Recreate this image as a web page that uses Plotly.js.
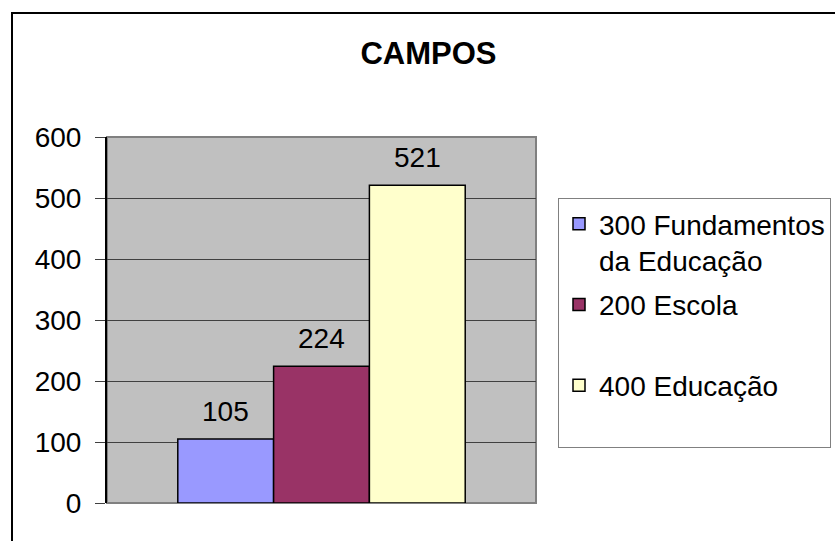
<!DOCTYPE html>
<html>
<head>
<meta charset="utf-8">
<script src="https://cdn.plot.ly/plotly-3.0.1.min.js"></script>
<style>
html,body{margin:0;padding:0;background:#fff;}
#chart{width:835px;height:541px;}
</style>
</head>
<body>
<div id="chart"></div>
<script>
// Data
const seriesNames = ["300 Fundamentos<br>da Educação", "200 Escola<br> ", "400 Educação<br> "];
const seriesValues = [105, 224, 521];
const seriesColors = ["#9999FF", "#993366", "#FFFFCC"];
const category = ["CAMPOS"];
const yTicks = [0, 100, 200, 300, 400, 500, 600];

const FONT = "'Liberation Sans', Arial, sans-serif";
const bargap = 0.33;

const traces = seriesNames.map((name, i) => ({
  type: "bar",
  x: category,
  y: [seriesValues[i]],
  name: name,
  legendgroup: "g" + i,
  marker: { color: seriesColors[i], line: { color: "#000000", width: 1.5 } },
  hoverinfo: "skip"
}));

const n = seriesValues.length;
const barW = (1 - bargap) / n;
const annotations = seriesValues.map((v, i) => ({
  xref: "x", yref: "y",
  x: (i - (n - 1) / 2) * barW,
  y: v,
  text: String(v),
  showarrow: false,
  xanchor: "center",
  yanchor: "bottom",
  yshift: 10,
  font: { family: FONT, size: 28, color: "#000000" }
}));

const L = 107, R = 299, T = 137, B = 38;
const pw = 835 - L - R, ph = 541 - T - B;

const shapes = [
  // outer chart-area border
  { type: "rect", xref: "paper", yref: "paper",
    x0: (12 - L) / pw, x1: (900 - L) / pw,
    y0: (541 - B - 600) / ph, y1: (541 - B - 13) / ph,
    line: { color: "#000000", width: 2 }, fillcolor: "rgba(0,0,0,0)", layer: "above" },
  // plot area border
  { type: "rect", xref: "paper", yref: "paper", x0: 0, x1: 1, y0: 0, y1: 1,
    line: { color: "#808080", width: 2 }, fillcolor: "rgba(0,0,0,0)", layer: "below" }
];

const layout = {
  width: 835, height: 541,
  margin: { l: L, r: R, t: T, b: B, pad: 0, autoexpand: false },
  paper_bgcolor: "#FFFFFF",
  plot_bgcolor: "#C0C0C0",
  font: { family: FONT, size: 28, color: "#000000" },
  title: {
    text: "<b>CAMPOS</b>",
    font: { family: FONT, size: 31, color: "#000000" },
    x: 428.5 / 835, xanchor: "center", xref: "container",
    y: 1 - 53 / 541, yanchor: "middle", yref: "container"
  },
  barmode: "group",
  bargap: bargap,
  bargroupgap: 0,
  showlegend: true,
  legend: {
    x: (558 - L) / pw, xanchor: "left",
    y: (541 - B - 198) / ph, yanchor: "top",
    bgcolor: "#FFFFFF",
    bordercolor: "#808080",
    borderwidth: 1,
    valign: "top",
    tracegroupgap: 5,
    font: { family: FONT, size: 28, color: "#000000" }
  },
  xaxis: {
    type: "category",
    showticklabels: false,
    showgrid: false,
    zeroline: false,
    showline: false,
    ticks: "",
    fixedrange: true
  },
  yaxis: {
    range: [0, 600],
    tickvals: yTicks,
    ticktext: yTicks.map(String),
    showgrid: true,
    gridcolor: "#404040",
    gridwidth: 1,
    zeroline: false,
    showline: true,
    linecolor: "#000000",
    linewidth: 2,
    ticks: "outside",
    ticklen: 10,
    tickcolor: "#404040",
    tickwidth: 1,
    ticklabelstandoff: 8,
    tickfont: { family: FONT, size: 28, color: "#000000" },
    fixedrange: true
  },
  shapes: shapes,
  annotations: annotations
};

Plotly.newPlot("chart", traces, layout, { displayModeBar: false, staticPlot: true });
</script>
</body>
</html>
